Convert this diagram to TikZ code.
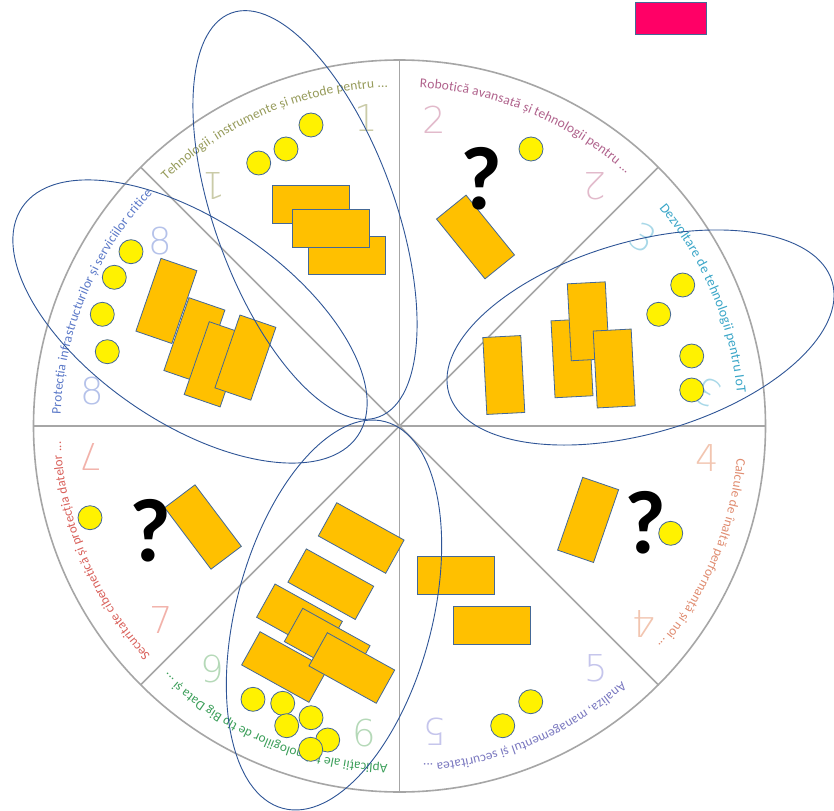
\documentclass[tikz,border=0pt]{standalone}
\usepackage{fontspec}
\setmainfont{Carlito}
\newfontfamily\numfont{DejaVuSans-ExtraLight.ttf}
\usetikzlibrary{decorations.text,calc}
\definecolor{edgeblue}{RGB}{68,104,150}
\definecolor{ovalblue}{RGB}{47,85,151}
\definecolor{orangefill}{RGB}{255,192,0}
\definecolor{divgray}{RGB}{166,166,166}
\definecolor{magfill}{RGB}{255,0,102}
\definecolor{tA}{RGB}{150,155,90}
\definecolor{tB}{RGB}{176,98,140}
\definecolor{tC}{RGB}{58,166,200}
\definecolor{tD}{RGB}{224,140,112}
\definecolor{tE}{RGB}{122,120,192}
\definecolor{tF}{RGB}{60,159,90}
\definecolor{tG}{RGB}{217,96,90}
\definecolor{tH}{RGB}{90,120,200}
\definecolor{nA}{RGB}{202,203,168}
\definecolor{nB}{RGB}{226,186,203}
\definecolor{nC}{RGB}{168,216,232}
\definecolor{nD}{RGB}{242,197,176}
\definecolor{nE}{RGB}{197,197,236}
\definecolor{nF}{RGB}{181,217,184}
\definecolor{nG}{RGB}{242,178,170}
\definecolor{nH}{RGB}{181,194,234}
\newcommand\arcsz[1]{\fontsize{#1}{#1}\selectfont}
\newcommand\arctext[5]{%
  \path[decorate, decoration={text along path, text color=#1,
    text align=fit to path, text={|\arcsz{#2}|#5}}]
    ($(C)+(#3:339)$) arc[start angle=#3, end angle=#4, radius=339];}
\tikzset{
  divider/.style={draw=divgray, line width=1.6pt},
  orect/.style={draw=edgeblue, fill=orangefill, line width=0.8pt, inner sep=0pt,
    minimum width=77pt, minimum height=38pt},
  trect/.style={orect, minimum width=38pt, minimum height=77pt},
  ydot/.style={circle, draw=edgeblue, fill=yellow, line width=0.8pt,
    minimum size=24pt, inner sep=0pt},
  oval/.style={draw=ovalblue, line width=0.9pt},
  num/.style={font={\numfont\fontsize{37}{37}\selectfont}, inner sep=0pt},
  qmark/.style={font={\bfseries\fontsize{90}{90}\selectfont}, inner sep=0pt},
}
\begin{document}
\begin{tikzpicture}[x=1pt,y=1pt]
\useasboundingbox (0,0) rectangle (834,-810);
\fill[white] (0,0) rectangle (834,-810);
\coordinate (C) at (399.5,-426);
% wheel
\draw[divider] (C) circle[radius=366];
\foreach \a in {0,45,...,315} \draw[divider] (C) -- ($(C)+(\a:366)$);
% sector texts
\arctext{tA}{13.4}{133.5}{92}{Tehnologii, instrumente și metode pentru ...}
\arctext{tB}{13.5}{86.6}{48}{Robotică avansată și tehnologii pentru ...}
\arctext{tC}{13.8}{40}{5.5}{Dezvoltare de tehnologii pentru IoT}
\arctext{tD}{13.2}{-5.5}{-40.3}{Calcule de înaltă performanță și noi ...}
\arctext{tE}{13.3}{-49}{-86}{Analiza, managementul și securitatea ...}
\arctext{tF}{13.3}{-92}{-133.3}{Aplicații ale tehnologiilor de tip Big Data și ...}
\arctext{tG}{13.0}{222.7}{182.7}{Securitate cibernetică și protecția datelor ...}
\arctext{tH}{13.2}{178}{136.8}{Protecția infrastructurilor și serviciilor critice}
% numbers
\node[num, text=nA] (n1a) at (366,-118.5) {1};
\node[num, text=nA, rotate=180] (n1b) at (214,-186) {1};
\node[num, text=nB] (n2a) at (434,-119.5) {2};
\node[num, text=nB, rotate=180] (n2b) at (595,-186) {2};
\node[num, text=nC, rotate=-30] (n3a) at (643.5,-237.5) {3};
\node[num, text=nC, rotate=150] (n3b) at (708,-392) {3};
\node[num, text=nD] (n4a) at (707.5,-458.5) {4};
\node[num, text=nD, rotate=180] (n4b) at (644,-623.5) {4};
\node[num, text=nE] (n5a) at (596.5,-668.5) {5};
\node[num, text=nE, rotate=180] (n5b) at (434.5,-732) {5};
\node[num, text=nF] (n6a) at (364,-733.5) {6};
\node[num, text=nF, rotate=180] (n6b) at (212.5,-669) {6};
\node[num, text=nG, rotate=180] (n7a) at (91,-456.5) {7};
\node[num, text=nG] (n7b) at (161,-620) {7};
\node[num, text=nH] (n8a) at (160,-241.5) {8};
\node[num, text=nH] (n8b) at (92.5,-391.5) {8};
% sector 1 rectangles
\node[orect] (r1a) at (311,-204.2) {};
\node[orect] (r1c) at (346.9,-254.9) {};
\node[orect] (r1b) at (330.5,-228.3) {};
% sector 2
\node[trect, rotate=39] (r2a) at (475.5,-237) {};
% sector 3
\node[trect, rotate=3] (r3a) at (503.8,-375) {};
\node[trect, rotate=3] (r3b) at (572,-358.3) {};
\node[trect, rotate=3] (r3c) at (588.3,-321.3) {};
\node[trect, rotate=3] (r3d) at (614.2,-368.5) {};
% sector 4
\node[trect, rotate=-19] (r4a) at (588.1,-519.9) {};
% sector 5
\node[orect] (r5a) at (455.7,-574.9) {};
\node[orect] (r5b) at (491.7,-625.2) {};
% sector 6
\node[orect, rotate=-29] (r6a) at (361.2,-538) {};
\node[orect, rotate=-29] (r6c) at (299.5,-619.3) {};
\node[orect, rotate=-29] (r6b) at (330.8,-584.2) {};
\node[orect, rotate=-29] (r6d) at (327.2,-643.6) {};
\node[orect, rotate=-29] (r6e) at (284.5,-667) {};
\node[orect, rotate=-29] (r6f) at (351.8,-668) {};
% sector 7
\node[trect, rotate=37] (r7a) at (203,-527) {};
% sector 8
\node[trect, rotate=-19] (r8a) at (166.4,-300.9) {};
\node[trect, rotate=-19] (r8b) at (194.4,-340.3) {};
\node[trect, rotate=-19] (r8c) at (214.7,-364.3) {};
\node[trect, rotate=-19] (r8d) at (245.4,-357.6) {};
% yellow dots
\node[ydot] (d1a) at (311,-125) {};
\node[ydot] (d1b) at (286,-149) {};
\node[ydot] (d1c) at (258.7,-163) {};
\node[ydot] (d2a) at (531,-149) {};
\node[ydot] (d3a) at (682.7,-285) {};
\node[ydot] (d3b) at (658.7,-314.3) {};
\node[ydot] (d3c) at (691.7,-356) {};
\node[ydot] (d3d) at (691.7,-390) {};
\node[ydot] (d4a) at (670.7,-533.3) {};
\node[ydot] (d5a) at (530.7,-701.7) {};
\node[ydot] (d5b) at (502.7,-725.7) {};
\node[ydot] (d6a) at (253,-699.3) {};
\node[ydot] (d6b) at (282.7,-703.3) {};
\node[ydot] (d6c) at (311,-717.7) {};
\node[ydot] (d6d) at (286.7,-725.7) {};
\node[ydot] (d6e) at (327.7,-740) {};
\node[ydot] (d6f) at (310.7,-749.3) {};
\node[ydot] (d7a) at (90,-517.7) {};
\node[ydot] (d8a) at (131,-251.7) {};
\node[ydot] (d8b) at (114.3,-277.3) {};
\node[ydot] (d8c) at (102.3,-314.3) {};
\node[ydot] (d8d) at (107.3,-351.7) {};
% question marks
\node[qmark] (q2) at (481.5,-179) {?};
\node[qmark] (q4) at (645,-522.5) {?};
\node[qmark] (q7) at (150,-531) {?};
% ovals
\draw[oval, rotate around={-70:(305,-215)}] (305,-215) ellipse [x radius=215pt, y radius=90pt];
\draw[oval, rotate around={-34.3:(190,-321.5)}] (190,-321.5) ellipse [x radius=203pt, y radius=101pt];
\draw[oval, rotate around={75.2:(334,-615)}] (334,-615) ellipse [x radius=200pt, y radius=98pt];
\draw[oval, rotate around={16.2:(640.5,-337.5)}] (640.5,-337.5) ellipse [x radius=199.6pt, y radius=95.8pt];
% legend box
\node[draw=edgeblue, fill=magfill, line width=0.8pt, minimum width=71pt, minimum height=31.6pt, inner sep=0pt] (mag) at (670.5,-18.5) {};
\end{tikzpicture}
\end{document}
